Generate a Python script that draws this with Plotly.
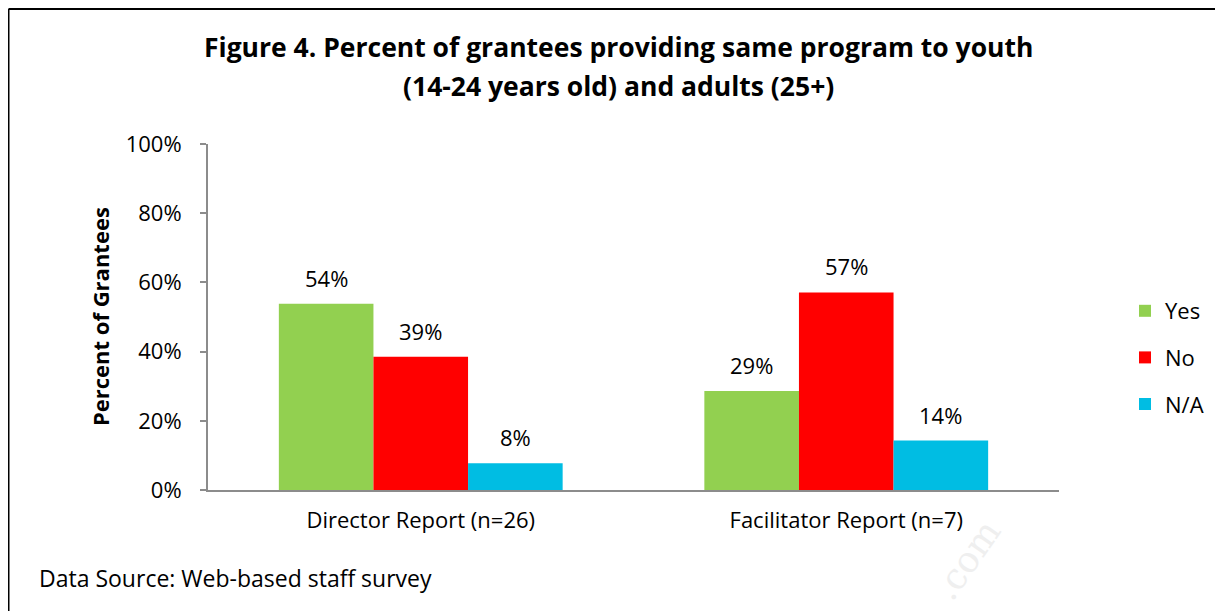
import plotly.graph_objects as go

categories = ["Director Report (n=26)", "Facilitator Report (n=7)"]
series_names = ["Yes", "No", "N/A"]
yes_vals = [53.8, 28.6]
no_vals = [38.5, 57.1]
na_vals = [7.7, 14.3]
colors = ["#92D050", "#FF0000", "#00BDE3"]
y_ticks = [0, 20, 40, 60, 80, 100]
y_tick_labels = ["0%", "20%", "40%", "60%", "80%", "100%"]

FONT = "Open Sans, sans-serif"
FS = 22
# page has an 8px body margin; work in reference pixels and shift by it
OFF = 8
W, H = 1223 - OFF, 611 - OFF
PL, PR, PT, PB = 208, 1059, 144, 490  # plot area in reference pixels
L, R, T, B = PL - OFF, W - (PR - OFF), PT - OFF, H - (PB - OFF)
pw, ph = W - L - R, H - T - B

def px_x(px):
    return (px - OFF - L) / pw

def px_y(py):
    return (H - B - (py - OFF)) / ph

BARGAP = 0.333
bar_px = (pw / len(categories)) * (1 - BARGAP) / len(series_names)

fig = go.Figure()
annotations = []
all_vals = [yes_vals, no_vals, na_vals]
for i, (name, vals, col) in enumerate(zip(series_names, all_vals, colors)):
    fig.add_trace(go.Bar(
        x=categories, y=vals, name=name, marker=dict(color=col, line=dict(width=0)),
        legendgroup=name,
    ))
    for cat, v in zip(categories, vals):
        annotations.append(dict(
            x=cat, y=v, xref="x", yref="y", text=f"{int(v + 0.5)}%", showarrow=False,
            xanchor="center", yanchor="middle", xshift=(i - 1) * bar_px, yshift=26,
            font=dict(family=FONT, size=FS, color="#000000"),
        ))

annotations += [
    dict(text="<b>Figure 4. Percent of grantees providing same program to youth</b>",
         xref="paper", yref="paper", x=px_x(618), y=px_y(47),
         xanchor="center", yanchor="middle", showarrow=False,
         font=dict(family=FONT, size=26.5, color="#000000")),
    dict(text="<b>(14-24 years old) and adults (25+)</b>",
         xref="paper", yref="paper", x=px_x(618), y=px_y(86),
         xanchor="center", yanchor="middle", showarrow=False,
         font=dict(family=FONT, size=26.5, color="#000000")),
    dict(text="<b>Percent of Grantees</b>", xref="paper", yref="paper",
         x=px_x(100), y=px_y(317), xanchor="center", yanchor="middle",
         textangle=-90, showarrow=False, font=dict(family=FONT, size=22, color="#000000")),
    dict(text="Data Source: Web-based staff survey", xref="paper", yref="paper",
         x=px_x(37), y=px_y(578), xanchor="left", yanchor="middle",
         showarrow=False, font=dict(family=FONT, size=23, color="#000000")),
    dict(text=".com", xref="paper", yref="paper",
         x=px_x(966), y=px_y(560), xanchor="center", yanchor="middle",
         showarrow=False, textangle=-55,
         font=dict(family="DejaVu Serif", size=36, color="#efefef")),
]

fig.update_layout(
    width=W, height=H,
    margin=dict(l=L, r=R, t=T, b=B, autoexpand=False),
    paper_bgcolor="white", plot_bgcolor="white",
    barmode="group", bargap=BARGAP, bargroupgap=0,
    font=dict(family=FONT, size=FS, color="#000000"),
    showlegend=True,
    legend=dict(x=px_x(1125), y=px_y(290), xanchor="left", yanchor="top",
                font=dict(family=FONT, size=FS, color="#000000"),
                tracegroupgap=15, itemwidth=30, bgcolor="rgba(0,0,0,0)"),
    xaxis=dict(showline=True, linecolor="#8c8c8c", linewidth=2, ticks="",
               tickfont=dict(family=FONT, size=FS), showgrid=False, zeroline=False,
               ticklabelstandoff=10),
    yaxis=dict(range=[0, 100], tickvals=y_ticks, ticktext=y_tick_labels,
               showline=True, linecolor="#8c8c8c", linewidth=2, ticks="outside",
               ticklen=6, tickcolor="#8c8c8c", tickwidth=2, showgrid=False, zeroline=False,
               tickfont=dict(family=FONT, size=FS), ticklabelstandoff=14),
    annotations=annotations,
    shapes=[
        dict(type="line", xref="paper", yref="paper",
             x0=px_x(8.5), x1=px_x(1240), y0=px_y(9), y1=px_y(9),
             line=dict(color="#000000", width=2)),
        dict(type="line", xref="paper", yref="paper",
             x0=px_x(8.5), x1=px_x(8.5), y0=px_y(9), y1=px_y(640),
             line=dict(color="#000000", width=2)),
    ],
)

fig.write_html("out.html")
